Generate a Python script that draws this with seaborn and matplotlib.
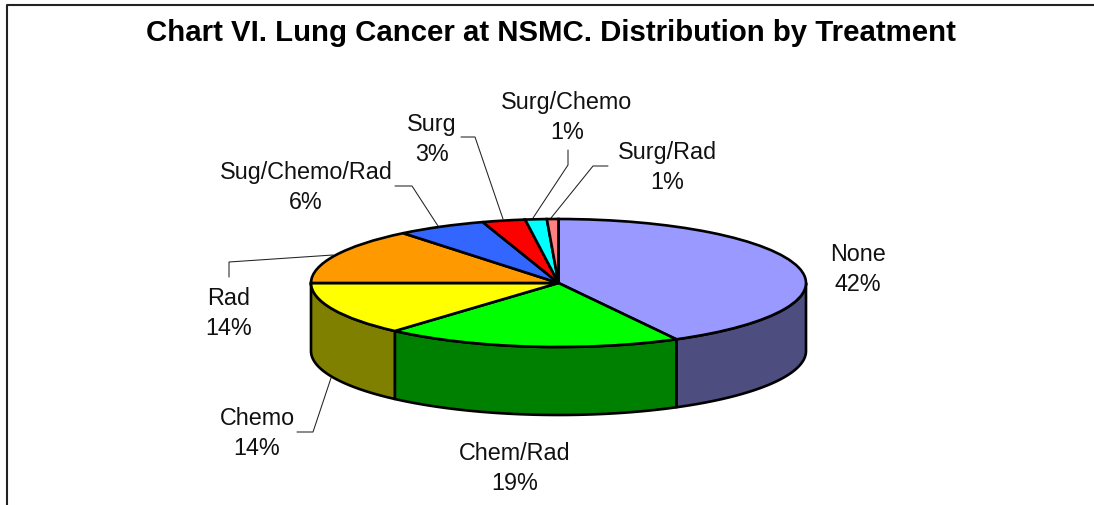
import numpy as np
import matplotlib
matplotlib.use('Agg')
import matplotlib.pyplot as plt
import seaborn as sns

# Data (slice shares estimated from the slice edges, labels show them rounded)
treatments = ['None', 'Chem/Rad', 'Chemo', 'Rad', 'Sug/Chemo/Rad', 'Surg', 'Surg/Chemo', 'Surg/Rad']
percents = [42.1, 19.4, 13.5, 14.2, 5.85, 2.8, 1.4, 0.75]
top_colors = ['#9999FF', '#00FF00', '#FFFF00', '#FF9900', '#3366FF', '#FF0000', '#00FFFF', '#FF8080']
side_colors = ['#4D4D80', '#008000', '#808000', '#804D00', '#1A3380', '#800000', '#008080', '#804040']

title = 'Chart VI. Lung Cancer at NSMC. Distribution by Treatment'

# Layout, in image pixels
W, H = 1094, 506
CX, CY, RX, RY, DEPTH = 558.5, 284, 247.5, 64, 68
label_pos = [(858, 269.5), (515, 468.5), (257, 433.5), (229, 313.5), (306, 187.5), (432, 139.5), (567, 117.5), (667, 167.5)]
leaders = [
    [(229, 278), (229, 263), (333, 256)],
    [(297, 433), (313, 433), (331, 379)],
    [(395, 187), (412, 187), (438, 227)],
    [(461, 138), (475, 138), (503, 220)],
    [(568, 151), (568, 166), (533, 219)],
    [(608, 167), (593, 167), (551, 219)],
]

sns.set_theme(style='white')
plt.rcParams['font.family'] = ['Liberation Sans', 'DejaVu Sans']

fig = plt.figure(figsize=(W / 100, H / 100), dpi=100, facecolor='white')
ax = fig.add_axes([0, 0, 1, 1])


def to_data(px, py):
    return (px - CX) / RX, (CY - py) / RY


palette = sns.color_palette(top_colors)
wedges, _ = ax.pie(percents, colors=palette, startangle=90, counterclock=False, radius=1, center=(0, 0),
                   wedgeprops={'edgecolor': 'black', 'linewidth': 1.9})
for w in wedges:
    w.set_zorder(3)

# the pie is a unit circle, so squashing the axes turns it into the tilted ellipse
ax.set_aspect('auto')
x0, y0 = to_data(0, H)
x1, y1 = to_data(W, 0)
ax.set_xlim(x0, x1)
ax.set_ylim(y0, y1)
ax.set_axis_off()

# side wall: only the front half of each slice shows
d = DEPTH / RY
edges = np.cumsum([0] + percents) * 3.6
for start, end, col in zip(edges[:-1], edges[1:], side_colors):
    a0, a1 = max(start, 90), min(end, 270)
    if a1 <= a0:
        continue
    a = np.radians(np.linspace(a0, a1, 80))
    xs = np.concatenate([np.sin(a), np.sin(a[::-1])])
    ys = np.concatenate([np.cos(a), np.cos(a[::-1]) - d])
    ax.fill(xs, ys, facecolor=col, edgecolor='black', linewidth=1.9, joinstyle='round', zorder=2)

for name, pct, (px, py) in zip(treatments, percents, label_pos):
    x, y = to_data(px, py)
    ax.text(x, y, f'{name}\n{pct:.0f}%', ha='center', va='center', fontsize=16.8,
            linespacing=1.38, color='#111111', zorder=5)

for pts in leaders:
    xy = np.array([to_data(*p) for p in pts])
    ax.plot(xy[:, 0], xy[:, 1], color='#222222', linewidth=0.75, zorder=1)

# chart frame only shows along the top and left
bx, by = zip(*[to_data(6.5, H), to_data(6.5, 5.5), to_data(W, 5.5)])
ax.plot(bx, by, color='#222222', linewidth=1.5, zorder=1)

tx, ty = to_data(551, 33)
ax.text(tx, ty, title, ha='center', va='center', fontsize=21.2, fontweight='bold', color='black')

fig.savefig('out.png', dpi=100, facecolor='white')
